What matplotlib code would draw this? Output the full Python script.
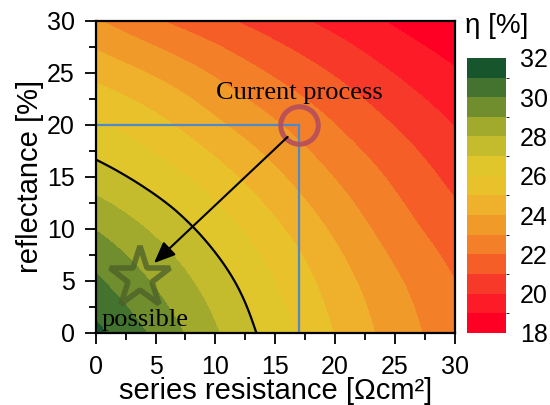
import numpy as np
import matplotlib
matplotlib.use("Agg")
import matplotlib.pyplot as plt
import matplotlib.tri as mtri
from matplotlib.colors import ListedColormap, BoundaryNorm

plt.rcParams['font.family'] = ['Liberation Sans', 'DejaVu Sans']

# grid: series resistance (x) and reflectance (y)
rs_vals = [0, 5, 10, 15, 20, 25, 30]
refl_vals = [0, 5, 10, 15, 20, 25, 30]
# efficiency [%], one row per reflectance value
eta = [
    [31.25, 29.75, 28.1, 26.5, 24.95, 23.55, 22.35],
    [30.15, 28.85, 27.45, 26.0, 24.5, 23.15, 22.0],
    [28.95, 27.8, 26.55, 25.2, 23.8, 22.5, 21.4],
    [27.45, 26.55, 25.45, 24.2, 22.95, 21.8, 20.7],
    [26.15, 25.3, 24.2, 23.1, 22.0, 20.95, 19.95],
    [24.7, 23.85, 22.85, 21.85, 20.9, 19.95, 19.1],
    [23.1, 22.1, 21.25, 20.45, 19.65, 18.85, 18.1],
]
levels = list(range(18, 33))
band_colors = ['#ff0025', '#fc1b27', '#f7392a', '#f55e27', '#f37f29', '#f09a2a',
               '#efb12b', '#e8c12b', '#e1c62b', '#c4bc2c', '#a1aa2c', '#718e2e',
               '#43732f', '#17562d']
cbar_ticks = [18, 20, 22, 24, 26, 28, 30, 32]

current = (17, 20)
possible = (3.7, 5.2)

X, Y = np.meshgrid(rs_vals, refl_vals)
Z = np.array(eta)
tri = mtri.Triangulation(X.ravel(), Y.ravel())
interp = mtri.CubicTriInterpolator(tri, Z.ravel())
refiner = mtri.UniformTriRefiner(tri)
tri_f, z_f = refiner.refine_field(Z.ravel(), triinterpolator=interp, subdiv=4)

cmap = ListedColormap(band_colors)
norm = BoundaryNorm(levels, cmap.N)

fig = plt.figure(figsize=(5.5, 4.05), dpi=100)
ax = fig.add_axes([0.174, 0.179, 0.653, 0.770])
cs = ax.tricontourf(tri_f, z_f, levels=levels, cmap=cmap, norm=norm)
ax.tricontour(tri_f, z_f, levels=[27], colors='black', linewidths=1.6)

ax.plot([0, current[0]], [current[1], current[1]], color='#4f8ac8', lw=1.6)
ax.plot([current[0], current[0]], [current[1], 0], color='#4f8ac8', lw=1.6)
ax.plot(*current, 'o', ms=27, mfc='none', mec='#b24a5e', mew=3.6, alpha=0.85)
ax.annotate('', xy=(4.7, 6.5), xytext=(16.2, 19.0),
            arrowprops=dict(arrowstyle='-|>,head_length=1.3,head_width=0.55',
                            color='black', lw=1.5))
ax.plot(*possible, '*', ms=46, mfc='none', mec='#4a5f28', mew=4, alpha=0.75)

ax.text(17.05, 22.5, 'Current process', family='Liberation Serif', fontsize=19,
        ha='center', va='baseline')
ax.text(0.45, 0.65, 'possible', family='Liberation Serif', fontsize=19,
        ha='left', va='baseline')

ax.set_xlim(0, 30)
ax.set_ylim(0, 30)
ax.set_xticks([0, 5, 10, 15, 20, 25, 30])
ax.set_yticks([0, 5, 10, 15, 20, 25, 30])
ax.set_xticks(np.arange(0, 31, 2.5), minor=True)
ax.set_yticks(np.arange(0, 31, 2.5), minor=True)
ax.tick_params(which='both', direction='out', width=1.3, labelsize=18)
ax.tick_params(which='major', length=8, pad=7)
ax.tick_params(which='minor', length=5)
ax.tick_params(axis='x', pad=8)
for s in ax.spines.values():
    s.set_linewidth(1.6)
ax.set_xlabel('series resistance [Ωcm²]', fontsize=21, labelpad=-1)
ax.set_ylabel('reflectance [%]', fontsize=21, labelpad=2)

cax = fig.add_axes([0.849, 0.178, 0.071, 0.679])
cb = fig.colorbar(cs, cax=cax, ticks=cbar_ticks)
cb.outline.set_visible(False)
cax.tick_params(length=0, labelsize=18, pad=10)
fig.text(0.903, 0.918, 'η [%]', fontsize=20, ha='center', va='baseline')

fig.savefig('out.png', dpi=100)
